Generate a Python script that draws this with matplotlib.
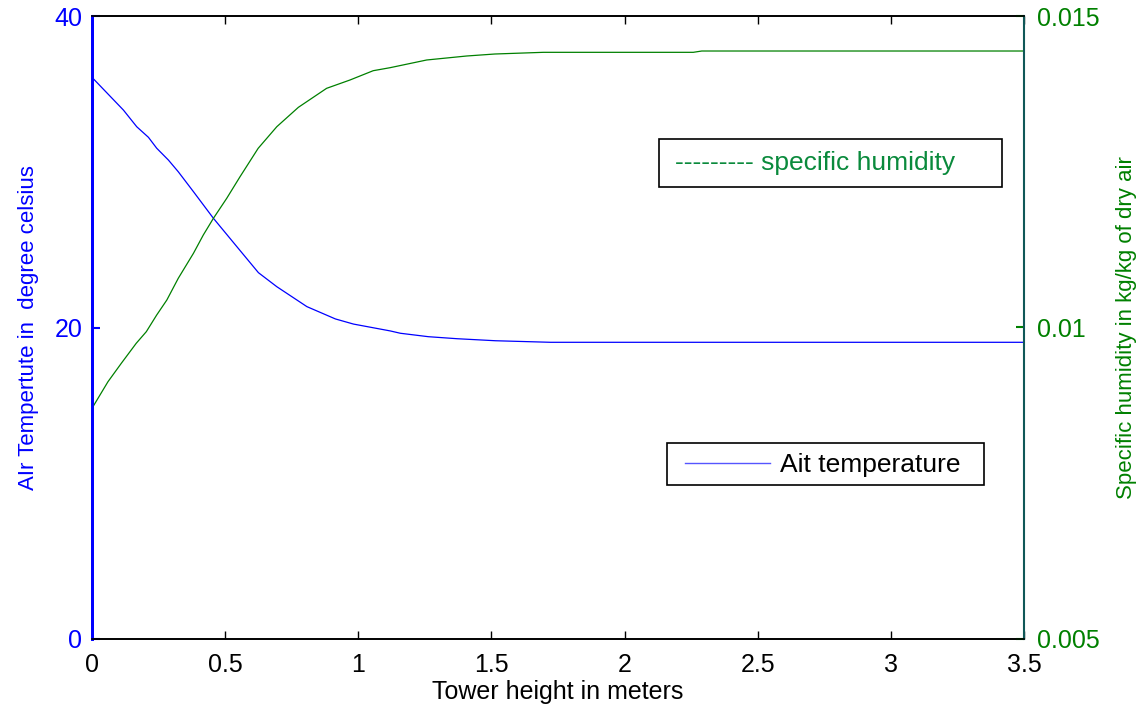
import matplotlib
matplotlib.use("Agg")
import matplotlib.pyplot as plt
from matplotlib.patches import Rectangle

plt.rcParams['font.family'] = ['Liberation Sans', 'DejaVu Sans']

# Data
height_t = [0.0, 0.118, 0.168, 0.212, 0.243, 0.287, 0.324, 0.381, 0.456, 0.544,
            0.625, 0.694, 0.807, 0.914, 0.982, 1.120, 1.158, 1.263, 1.371, 1.515,
            1.722, 3.5]
air_temp = [36.06, 33.96, 32.89, 32.21, 31.51, 30.75, 30.00, 28.72, 27.01, 25.19,
            23.52, 22.62, 21.34, 20.55, 20.22, 19.78, 19.63, 19.41, 19.28, 19.15,
            19.05, 19.05]

height_h = [0.0, 0.060, 0.110, 0.166, 0.204, 0.243, 0.281, 0.324, 0.381, 0.418,
            0.456, 0.506, 0.556, 0.624, 0.694, 0.775, 0.881, 0.969, 1.056, 1.119,
            1.257, 1.407, 1.513, 1.695, 2.258, 2.290, 3.5]
spec_hum = [0.008703, 0.009130, 0.009425, 0.009746, 0.009933, 0.010201, 0.010441,
            0.010790, 0.011191, 0.011485, 0.011753, 0.012074, 0.012421, 0.012876,
            0.013223, 0.013534, 0.013839, 0.013973, 0.014122, 0.014170, 0.014294,
            0.014358, 0.014390, 0.014417, 0.014417, 0.014438, 0.014438]

x_ticks = [0, 0.5, 1, 1.5, 2, 2.5, 3, 3.5]
x_ticklabels = ['0', '0.5', '1', '1.5', '2', '2.5', '3', '3.5']
left_ticks = [0, 20, 40]
right_ticks = [0.005, 0.01, 0.015]
right_ticklabels = ['0.005', '0.01', '0.015']

BLUE = '#0000ff'
GREEN = '#008000'
LEG_GREEN = '#0a8a3c'

W, H = 1141, 708
fig = plt.figure(figsize=(W / 100, H / 100), dpi=100)
L, R, T, B = 92, 1024, 16, 639
ax = fig.add_axes([L / W, (H - B) / H, (R - L) / W, (B - T) / H])
ax2 = ax.twinx()

ax.plot(height_t, air_temp, color=BLUE, lw=0.9)
ax2.plot(height_h, spec_hum, color=GREEN, lw=0.9)

ax.set_xlim(0, 3.5)
ax.set_ylim(0, 40)
ax2.set_ylim(0.005, 0.015)

ax.set_xticks(x_ticks)
ax.set_xticklabels(x_ticklabels)
ax.set_yticks(left_ticks)
ax2.set_yticks(right_ticks)
ax2.set_yticklabels(right_ticklabels)

ax.tick_params(axis='x', direction='in', length=6, width=1, colors='black',
               labelsize=18, top=True, pad=10)
ax.tick_params(axis='y', direction='in', length=6, width=1.5, colors=BLUE,
               labelsize=18, pad=7)
ax2.tick_params(axis='y', direction='in', length=6, width=1.5, colors=GREEN,
                labelsize=18, pad=9)
for lbl in ax.get_yticklabels():
    lbl.set_color(BLUE)
for lbl in ax2.get_yticklabels():
    lbl.set_color(GREEN)

for a in (ax, ax2):
    a.spines['top'].set_color('black')
    a.spines['bottom'].set_color('black')
    a.spines['top'].set_linewidth(1.2)
    a.spines['bottom'].set_linewidth(1.2)
ax.spines['left'].set_color(BLUE)
ax.spines['left'].set_linewidth(2)
ax2.spines['left'].set_color(BLUE)
ax2.spines['left'].set_linewidth(2)
ax2.spines['right'].set_color('#105858')
ax2.spines['right'].set_linewidth(1.5)
ax.spines['right'].set_visible(False)

ax.set_xlabel('Tower height in meters', fontsize=18, labelpad=2)
ax.set_ylabel('AIr Tempertute in  degree celsius', fontsize=16, color=BLUE, labelpad=11)
ax2.set_ylabel('Specific humidity in kg/kg of dry air', fontsize=16, color=GREEN,
               labelpad=12)

# Legend boxes (drawn in axes fraction coordinates)
def fx(px):
    return (px - L) / (R - L)

def fy(py):
    return (B - py) / (B - T)

box1 = Rectangle((fx(659), fy(187)), fx(1002) - fx(659), fy(139) - fy(187),
                 transform=ax2.transAxes, fill=True, facecolor='white',
                 edgecolor='black', lw=1.2, zorder=5)
ax2.add_patch(box1)
ax2.text(fx(675), fy(163), '--------- specific humidity', transform=ax2.transAxes,
         fontsize=19, color=LEG_GREEN, va='center', ha='left', zorder=6)

box2 = Rectangle((fx(667), fy(485)), fx(984) - fx(667), fy(443) - fy(485),
                 transform=ax2.transAxes, fill=True, facecolor='white',
                 edgecolor='black', lw=1.2, zorder=5)
ax2.add_patch(box2)
ax2.plot([fx(685), fx(770)], [fy(463), fy(463)], transform=ax2.transAxes,
         color='#5555ff', lw=1.0, zorder=6)
ax2.text(fx(780), fy(465), 'Ait temperature', transform=ax2.transAxes,
         fontsize=19, color='black', va='center', ha='left', zorder=6)

fig.savefig('out.png', dpi=100)
